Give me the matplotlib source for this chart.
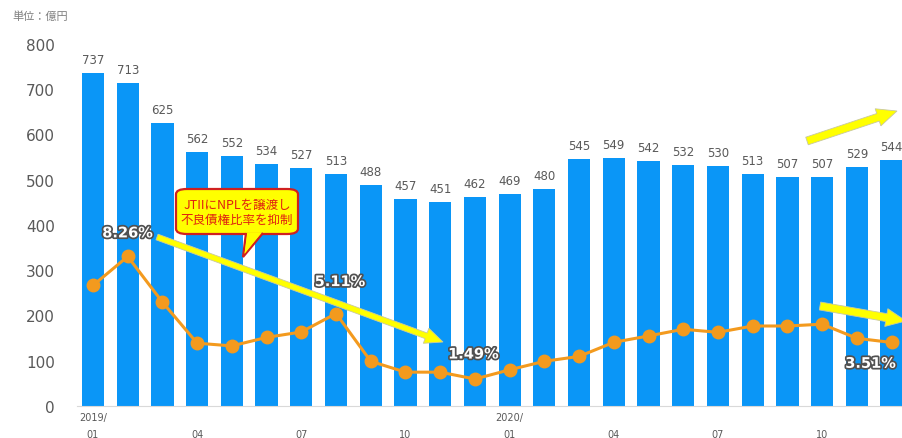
import matplotlib
matplotlib.use("Agg")
import matplotlib.pyplot as plt
import matplotlib.patheffects as pe
from matplotlib.patches import FancyBboxPatch, Polygon, FancyArrow
from matplotlib.transforms import IdentityTransform
import numpy as np

plt.rcParams['font.family'] = ['DejaVu Sans', 'Noto Sans CJK JP']
JP = ['Noto Sans CJK JP', 'DejaVu Sans']

# 月次データ 2019/01 - 2020/12
months = ["2019/\n01", "", "", "\n04", "", "", "\n07", "", "", "\n10", "", "",
          "2020/\n01", "", "", "\n04", "", "", "\n07", "", "", "\n10", "", ""]
balance = [737, 713, 625, 562, 552, 534, 527, 513, 488, 457, 451, 462,
           469, 480, 545, 549, 542, 532, 530, 513, 507, 507, 529, 544]
npl_ratio = [6.66, 8.26, 5.74, 3.47, 3.32, 3.79, 4.09, 5.11, 2.47, 1.87, 1.87, 1.49,
             2.00, 2.47, 2.74, 3.52, 3.87, 4.24, 4.07, 4.42, 4.42, 4.52, 3.74, 3.51]
shown_ratio = {1: "8.26%", 7: "5.11%", 11: "1.49%", 23: "3.51%"}

W, H = 902, 439
fig = plt.figure(figsize=(W / 100, H / 100), dpi=100)
ax = fig.add_axes([77 / W, 1 - 407 / H, (W - 77) / W, (407 - 45) / H])


def px(x, y):
    # ピクセル位置 -> figure 座標
    return (x / W, 1 - y / H)


x = np.arange(len(balance))
ax.bar(x, balance, width=0.64, color="#0A96F7", zorder=2)
for xi, v in zip(x, balance):
    ax.annotate(f"{v}", (xi, v), xytext=(0, 5), textcoords="offset points",
                ha="center", va="bottom", fontsize=8.5, color="#595959")

ax.set_xlim(-0.46, 23.3)
ax.set_ylim(0, 800)
ax.set_yticks(range(0, 801, 100))
ax.tick_params(axis="y", length=0, labelsize=11, labelcolor="#595959", pad=16)
ax.set_xticks(x)
ax.set_xticklabels(months, fontsize=7, color="#595959", linespacing=1.9)
ax.tick_params(axis="x", length=0, pad=4)
for s in ["top", "right", "left"]:
    ax.spines[s].set_visible(False)
ax.spines["bottom"].set_color("#D9D9D9")

# 不良債権比率（第2軸）
ax2 = ax.twinx()
ax2.set_ylim(0, 20)
ax2.plot(x, npl_ratio, color="#F39A1E", lw=2.2, marker="o", ms=9,
         markeredgecolor="#F39A1E", zorder=3)
ax2.axis("off")

offsets = {1: (0, 17), 7: (3, 23), 11: (-1, 18), 23: (-15, -15)}
outline = [pe.withStroke(linewidth=2.5, foreground="#505050")]
for i, lbl in shown_ratio.items():
    ax2.annotate(lbl, (i, npl_ratio[i]), xytext=offsets[i], textcoords="offset points",
                 ha="center", va="center", fontsize=10.5, fontweight="bold",
                 color="white", path_effects=outline, annotation_clip=False)


# 黄色矢印（ピクセル座標で指定）
def yellow_arrow(p0, p1, width=6, head_w=16, head_l=18):
    x0, y0 = p0
    x1, y1 = p1
    arr = FancyArrow(x0, H - y0, x1 - x0, -(y1 - y0), width=width,
                     head_width=head_w, head_length=head_l,
                     length_includes_head=True, transform=IdentityTransform(),
                     facecolor="#FFFF00", edgecolor="#C8C8A0", lw=0.6, zorder=5)
    fig.patches.append(arr)


yellow_arrow((157, 238), (443, 343))
yellow_arrow((807, 142), (897, 112), width=8, head_w=18, head_l=20)
yellow_arrow((820, 307), (906, 322), width=8, head_w=18, head_l=20)

# 吹き出し
bx0, by0, bx1, by1 = 176, 190, 298, 235
box = FancyBboxPatch(px(bx0, by1), (bx1 - bx0) / W, (by1 - by0) / H,
                     boxstyle="round,pad=0,rounding_size=0.012",
                     transform=fig.transFigure, facecolor="#FFFF00",
                     edgecolor="#D02020", lw=1.6, zorder=6)
fig.patches.append(box)
tail = Polygon([px(246, by1 - 1), px(243, 258), px(263, by1 - 1)], closed=False,
               transform=fig.transFigure, facecolor="#FFFF00",
               edgecolor="#D02020", lw=1.6, zorder=7)
fig.patches.append(tail)
fig.patches.append(Polygon([px(247.5, by1 - 1.5), px(244.5, 255), px(261.5, by1 - 1.5)],
                           transform=fig.transFigure, facecolor="#FFFF00",
                           edgecolor="none", zorder=8))
fig.text(*px((bx0 + bx1) / 2, (by0 + by1) / 2), "JTIIにNPLを譲渡し\n不良債権比率を抑制",
         ha="center", va="center", fontsize=9, color="#E02010", family=JP,
         linespacing=1.2, zorder=9)

fig.text(*px(12, 17), "単位：億円", ha="left", va="center", fontsize=8,
         color="#7F7F7F", family=JP)

fig.savefig("out.png", dpi=100)
